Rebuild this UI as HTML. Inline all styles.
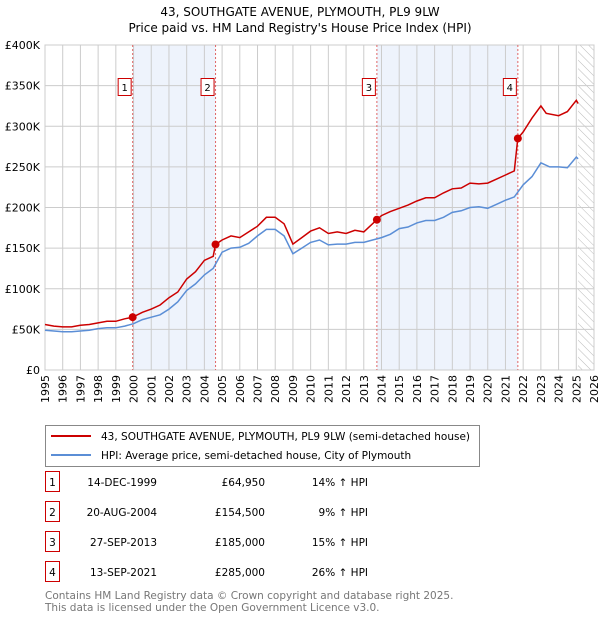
<!DOCTYPE html>
<html><head><meta charset="utf-8"><style>
body{margin:0;background:#fff;font-family:"DejaVu Sans","Liberation Sans",sans-serif;}
svg text{font-family:"DejaVu Sans","Liberation Sans",sans-serif;}
</style></head><body>
<svg id="c" width="600" height="620" xmlns="http://www.w3.org/2000/svg">
<defs><pattern id="hatch" width="6" height="6" patternUnits="userSpaceOnUse" patternTransform="rotate(-45)"><line x1="0" y1="0" x2="0" y2="6" stroke="#bbb" stroke-width="1"/></pattern></defs>
<text x="300" y="16" text-anchor="middle" font-size="12">43, SOUTHGATE AVENUE, PLYMOUTH, PL9 9LW</text>
<text x="300" y="32" text-anchor="middle" font-size="12">Price paid vs. HM Land Registry's House Price Index (HPI)</text>
<g id="plot"></g>
<g>
<rect x="45.5" y="425.5" width="434" height="41" fill="#fff" stroke="#888"/>
<line x1="51" y1="436" x2="91" y2="436" stroke="#cc0000" stroke-width="2"/>
<text x="101" y="440" font-size="10.5">43, SOUTHGATE AVENUE, PLYMOUTH, PL9 9LW (semi-detached house)</text>
<line x1="51" y1="455" x2="91" y2="455" stroke="#5b8ed6" stroke-width="2"/>
<text x="101" y="459" font-size="10.5">HPI: Average price, semi-detached house, City of Plymouth</text>
</g>
<g id="table" font-size="10.5"></g>
<text x="45" y="599" font-size="10.5" fill="#777">Contains HM Land Registry data © Crown copyright and database right 2025.</text>
<text x="45" y="611" font-size="10.5" fill="#777">This data is licensed under the Open Government Licence v3.0.</text>
</svg>
<script>
const hpiYears=[1995,1995.5,1996,1996.5,1997,1997.5,1998,1998.5,1999,1999.5,2000,2000.5,2001,2001.5,2002,2002.5,2003,2003.5,2004,2004.5,2005,2005.5,2006,2006.5,2007,2007.5,2008,2008.5,2009,2009.5,2010,2010.5,2011,2011.5,2012,2012.5,2013,2013.5,2014,2014.5,2015,2015.5,2016,2016.5,2017,2017.5,2018,2018.5,2019,2019.5,2020,2020.5,2021,2021.5,2022,2022.5,2023,2023.5,2024,2024.5,2025,2025.1];
const hpiValues=[49,48,47,47,48,49,51,52,52,54,57,62,65,68,75,84,98,106,117,125,145,150,151,156,165,173,173,165,143,150,157,160,154,155,155,157,157,160,163,167,174,176,181,184,184,188,194,196,200,201,199,204,209,213,228,238,255,250,250,249,262,260];
const propYears=[1995,1995.5,1996,1996.5,1997,1997.5,1998,1998.5,1999,1999.5,1999.95,2000.5,2001,2001.5,2002,2002.5,2003,2003.5,2004,2004.5,2004.63,2005,2005.5,2006,2006.5,2007,2007.5,2008,2008.5,2009,2009.5,2010,2010.5,2011,2011.5,2012,2012.5,2013,2013.74,2014,2014.5,2015,2015.5,2016,2016.5,2017,2017.5,2018,2018.5,2019,2019.5,2020,2020.5,2021,2021.5,2021.7,2022,2022.5,2023,2023.3,2024,2024.5,2025,2025.1];
const propValues=[56,54,53,53,55,56,58,60,60,63,65,71,75,80,89,96,112,121,135,140,154.5,160,165,163,170,177,188,188,180,155,163,171,175,168,170,168,172,170,185,190,195,199,203,208,212,212,218,223,224,230,229,230,235,240,245,285,293,310,325,316,313,318,332,328];
const saleLabels=["1","2","3","4"];
const saleYears=[1999.95,2004.63,2013.74,2021.7];
const saleValues=[64.95,154.5,185,285];
const saleDates=["14-DEC-1999","20-AUG-2004","27-SEP-2013","13-SEP-2021"];
const salePrices=["£64,950","£154,500","£185,000","£285,000"];
const saleDiffs=["14% ↑ HPI","9% ↑ HPI","15% ↑ HPI","26% ↑ HPI"];
const yTicks=[0,50,100,150,200,250,300,350,400];
const xTicks=[1995,1996,1997,1998,1999,2000,2001,2002,2003,2004,2005,2006,2007,2008,2009,2010,2011,2012,2013,2014,2015,2016,2017,2018,2019,2020,2021,2022,2023,2024,2025,2026];
const X0=45,X1=594,Y0=370,Y1=45,yr0=1995,yr1=2026,dataEnd=2025.1;
const x=v=>X0+(v-yr0)/(yr1-yr0)*(X1-X0);
const y=v=>Y0-(v/400)*(Y0-Y1);
const NS="http://www.w3.org/2000/svg";
const g=document.getElementById('plot');
function mk(tag,attrs,parent){const e=document.createElementNS(NS,tag);for(const k in attrs)e.setAttribute(k,attrs[k]);(parent||g).appendChild(e);return e;}
// shading
for(const [a,b] of [[0,1],[2,3]]){const r=mk('rect',{x:x(saleYears[a]),y:Y1,width:x(saleYears[b])-x(saleYears[a]),height:Y0-Y1,fill:'#eef3fc'});

}
// hatch
const h=mk('rect',{x:x(dataEnd),y:Y1,width:X1-x(dataEnd),height:Y0-Y1,fill:'url(#hatch)'});


// grid
yTicks.forEach(t=>{const l=mk('line',{x1:X0,x2:X1,y1:y(t),y2:y(t),stroke:'#ccc'});


const tx=mk('text',{x:X0-5,y:y(t)+4,'text-anchor':'end','font-size':11});tx.textContent=t===0?'£0':'£'+t+'K';

});
xTicks.forEach(t=>{const l=mk('line',{x1:x(t),x2:x(t),y1:Y1,y2:Y0,stroke:'#ccc'});


const tx=mk('text',{x:0,y:0,'text-anchor':'end','font-size':11,transform:`translate(${x(t)+4},${Y0+5}) rotate(-90)`});tx.textContent=t;

});
const ax=mk('rect',{x:X0,y:Y1,width:X1-X0,height:Y0-Y1,fill:'none',stroke:'#ccc'});


// sale lines
saleYears.forEach((s,i)=>{const l=mk('line',{x1:x(s),x2:x(s),y1:Y1,y2:Y0,stroke:'#e06666','stroke-dasharray':'2,2'});


const r=mk('rect',{x:x(s)-14.5,y:78.5,width:13,height:17,fill:'#fff',stroke:'#cc0000'});


const t=mk('text',{x:x(s)-8,y:91,'text-anchor':'middle','font-size':10});t.textContent=saleLabels[i];

});
function line(xs,vs,col,name){const p=mk('path',{d:xs.map((a,i)=>(i?'L':'M')+x(a).toFixed(1)+','+y(vs[i]).toFixed(1)).join(''),fill:'none',stroke:col,'stroke-width':1.5});

}
line(hpiYears,hpiValues,'#5b8ed6','hpi-line');
line(propYears,propValues,'#cc0000','property-price-line');
saleYears.forEach((s,i)=>{const c=mk('circle',{cx:x(s),cy:y(saleValues[i]),r:4,fill:'#cc0000'});

});
// table
const tb=document.getElementById('table');
saleLabels.forEach((lb,i)=>{const yy=483+i*30;
const r=mk('rect',{x:45.5,y:yy-11.5,width:14,height:20,fill:'#fff',stroke:'#cc0000'},tb);


const cells=[[52.5,lb,'middle'],[157,saleDates[i],'end'],[265,salePrices[i],'end'],[368,saleDiffs[i],'end']];
cells.forEach(c=>{const t=mk('text',{x:c[0],y:yy+3,'text-anchor':c[2]},tb);t.textContent=c[1];

});});
</script>
</body></html>
